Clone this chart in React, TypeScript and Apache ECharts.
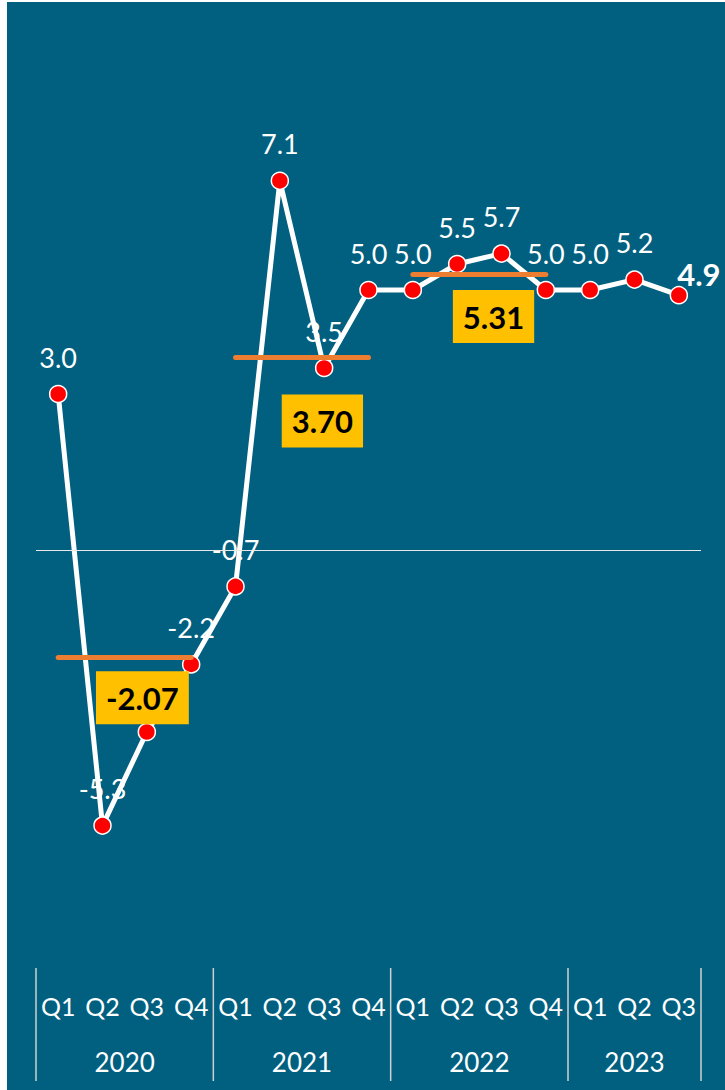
import React, { useEffect, useRef } from "react";
import * as echarts from "echarts";

const quarters = ["Q1", "Q2", "Q3", "Q4", "Q1", "Q2", "Q3", "Q4", "Q1", "Q2", "Q3", "Q4", "Q1", "Q2", "Q3"];
const years = ["2020", "2021", "2022", "2023"];
const quartersPerYear = [4, 4, 4, 3];
const growth = [3.0, -5.3, -3.5, -2.2, -0.7, 7.1, 3.5, 5.0, 5.0, 5.5, 5.7, 5.0, 5.0, 5.2, 4.9];
const yearAverages = [-2.07, 3.7, 5.31];
// layout: where each average box sits (x as quarter index, y in chart units)
const averageBoxAnchors = [
  [1.9, -2.84],
  [5.96, 2.48],
  [9.82, 4.49],
];

const FONT = "Lato";
const BG = "#01607F";

export default function App() {
  const ref = useRef<HTMLDivElement>(null);
  useEffect(() => {
    if (!ref.current) return;
    const chart = echarts.init(ref.current, undefined, { renderer: "svg" });

    const starts: number[] = [];
    let acc = 0;
    quartersPerYear.forEach((n) => {
      starts.push(acc);
      acc += n;
    });

    const avgLines = yearAverages.map((v, i) => [
      { coord: [starts[i], v] },
      { coord: [starts[i] + quartersPerYear[i] - 1, v] },
    ]);

    const lastIdx = growth.length - 1;
    const labelData = growth.map((v, i) =>
      i === lastIdx ? { value: v, label: { show: false } } : v
    );

    const option: any = {
      animation: false,
      backgroundColor: BG,
      grid: { left: 29, right: 24, top: 132, bottom: 124 },
      xAxis: [
        {
          type: "category",
          data: quarters,
          boundaryGap: true,
          axisLine: { show: false },
          axisTick: { show: false },
          splitLine: { show: false },
          axisLabel: {
            color: "#ffffff",
            fontSize: 25,
            fontFamily: FONT,
            margin: 27,
            interval: 0,
          },
        },
        { type: "value", min: -0.5, max: 14.5, show: false },
      ],
      yAxis: { type: "value", min: -8, max: 8, show: false },
      series: [
        {
          type: "line",
          data: labelData,
          z: 1,
          silent: true,
          symbol: "circle",
          symbolSize: 17,
          itemStyle: { color: "transparent", borderWidth: 0 },
          lineStyle: { width: 0, opacity: 0 },
          label: {
            show: true,
            position: "top",
            distance: 15,
            color: "#ffffff",
            fontSize: 27,
            fontFamily: FONT,
            formatter: (p: any) => Number(p.value).toFixed(1),
          },
          emphasis: { disabled: true },
          markLine: {
            silent: true,
            symbol: ["none", "none"],
            label: { show: false },
            lineStyle: { color: "#E8E8E8", width: 1, type: "solid" },
            data: [{ yAxis: 0 }],
          },
        },
        {
          // last value label, bold, above-right of its point
          type: "scatter",
          xAxisIndex: 1,
          z: 1,
          silent: true,
          symbolSize: 1,
          itemStyle: { color: "rgba(0,0,0,0)", opacity: 1 },
          data: [[lastIdx, growth[lastIdx]]],
          label: {
            show: true,
            position: "inside",
            offset: [20, -21],
            color: "#ffffff",
            opacity: 1,
            fontWeight: "bold",
            fontSize: 31,
            fontFamily: FONT,
            formatter: (p: any) => Number(p.value[1]).toFixed(1),
          },
          emphasis: { disabled: true },
        },
        {
          type: "line",
          data: growth,
          z: 2,
          silent: true,
          symbol: "none",
          showSymbol: false,
          lineStyle: { color: "#ffffff", width: 5 },
          emphasis: { disabled: true },
        },
        {
          type: "line",
          data: growth,
          z: 3,
          silent: true,
          symbol: "none",
          showSymbol: false,
          lineStyle: { width: 0, opacity: 0 },
          markLine: {
            silent: true,
            symbol: ["none", "none"],
            label: { show: false },
            lineStyle: { color: "#ED7D31", width: 5, type: "solid", cap: "round", opacity: 1 },
            data: avgLines,
          },
        },
        {
          type: "line",
          data: growth,
          z: 4,
          silent: true,
          symbol: "circle",
          symbolSize: 17,
          showSymbol: true,
          lineStyle: { width: 0, opacity: 0 },
          itemStyle: { color: "#FF0000", borderColor: "#ffffff", borderWidth: 1.5 },
          emphasis: { disabled: true },
        },
        {
          type: "scatter",
          xAxisIndex: 1,
          z: 5,
          silent: true,
          symbolSize: 1,
          itemStyle: { color: "rgba(0,0,0,0)", opacity: 1 },
          data: averageBoxAnchors.map((a) => a),
          label: {
            show: true,
            position: "inside",
            formatter: (p: any) => yearAverages[p.dataIndex].toFixed(2),
            backgroundColor: "#FFC000",
            opacity: 1,
            padding: [10, 10],
            color: "#000000",
            fontWeight: "bold",
            fontSize: 31,
            lineHeight: 33,
            fontFamily: FONT,
          },
          emphasis: { disabled: true },
        },
        {
          type: "custom",
          xAxisIndex: 0,
          yAxisIndex: 0,
          z: 1,
          silent: true,
          clip: false,
          data: years.map((y, i) => [starts[i], quartersPerYear[i], i]),
          renderItem: (params: any, api: any) => {
            const start = api.value(0);
            const count = api.value(1);
            const idx = api.value(2);
            const bw = api.size([1, 0])[0];
            const base = api.coord([start, -8]);
            const left = base[0] - bw / 2;
            const right = left + bw * count;
            const y0 = base[1] + 2;
            const lineStyle = { stroke: "#D0D0D0", lineWidth: 1.5 };
            const children: any[] = [
              { type: "line", shape: { x1: left, y1: y0, x2: left, y2: y0 + 113 }, style: lineStyle },
            ];
            if (idx === years.length - 1) {
              children.push({
                type: "line",
                shape: { x1: right, y1: y0, x2: right, y2: y0 + 113 },
                style: lineStyle,
              });
            }
            children.push({
              type: "text",
              x: (left + right) / 2,
              y: y0 + 94,
              style: {
                text: years[idx],
                fill: "#ffffff",
                fontSize: 26,
                fontFamily: FONT,
                align: "center",
                verticalAlign: "middle",
              },
            });
            return { type: "group", children };
          },
        },
      ],
    };
    chart.setOption(option);
    return () => chart.dispose();
  }, []);

  return (
    <div
      ref={ref}
      style={{ position: "absolute", left: 7, top: 2, width: 718, height: 1088 }}
    />
  );
}
